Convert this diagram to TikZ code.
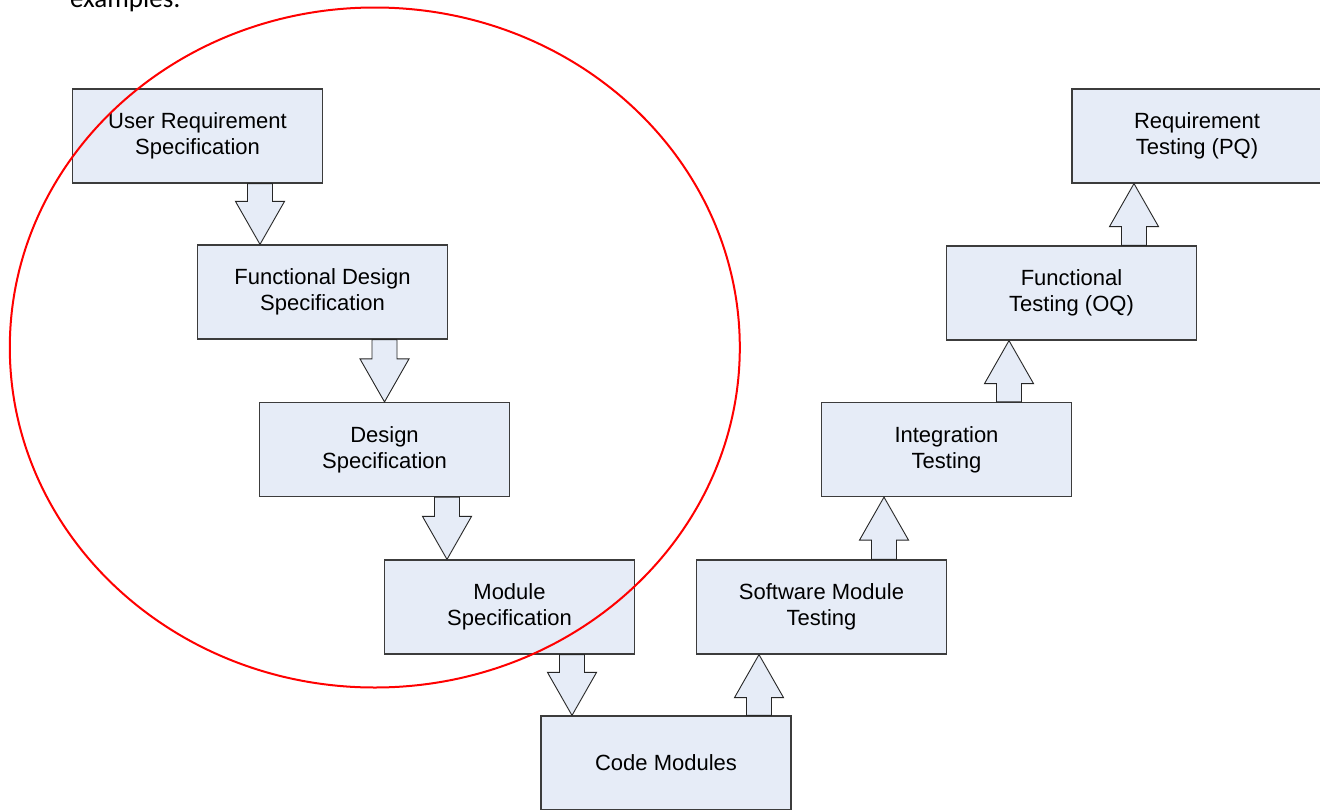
\documentclass[tikz,border=0pt]{standalone}
\usepackage{fontspec}
\setmainfont{Liberation Sans}
\newfontfamily\bodyfont{Carlito}
\usetikzlibrary{calc}

\definecolor{boxfill}{RGB}{230,236,247}
\definecolor{boxedge}{RGB}{60,60,60}
\definecolor{ringred}{RGB}{255,0,0}

\tikzset{
  stagebox/.style={draw=boxedge, fill=boxfill, line width=1.2pt,
    minimum width=250pt, minimum height=94pt, inner sep=0pt,
    align=center, font=\fontsize{22}{26}\selectfont},
  blockarrow/.style={draw=black!85, fill=boxfill, line width=0.9pt, line join=miter},
  ring/.style={draw=ringred, line width=2pt}
}

% block arrow pointing down from #1 to #2 at horizontal position #3
\newcommand\flowdown[3]{%
  \draw[blockarrow] (#3,0 |- #2.north) -- ++(-24.5,-43) -- ++(12,0)
    -- ($(#3,0 |- #1.south)+(-12.5,0)$) -- ++(25,0)
    -- ($(#3,0 |- #2.north)+(12.5,-43)$) -- ++(12,0) -- cycle;}
% block arrow pointing up from #1 to #2 at horizontal position #3
\newcommand\flowup[3]{%
  \draw[blockarrow] (#3,0 |- #2.south) -- ++(-24.5,43) -- ++(12,0)
    -- ($(#3,0 |- #1.north)+(-12.5,0)$) -- ++(25,0)
    -- ($(#3,0 |- #2.south)+(12.5,43)$) -- ++(12,0) -- cycle;}

\begin{document}
\begin{tikzpicture}[x=1pt, y=-1pt]
\path[use as bounding box, clip] (0,0) rectangle (1320,809);
\fill[white] (0,0) rectangle (1320,809);

% text line running into the top edge
\node[anchor=base west, inner sep=0pt, font=\bodyfont\fontsize{27}{32}\selectfont] (lead) at (70,7) {examples:};

% specification side
\node[stagebox] (urs) at (197.5,136)   {User Requirement\\Specification};
\node[stagebox] (fds) at (322.5,292)   {Functional Design\\Specification};
\node[stagebox] (ds)  at (384.5,449.5) {Design\\Specification};
\node[stagebox] (ms)  at (509.5,607)   {Module\\Specification};

% bottom
\node[stagebox] (cm)  at (666,763)     {Code Modules};

% testing side
\node[stagebox] (smt) at (821.5,607)   {Software Module\\Testing};
\node[stagebox] (it)  at (946.5,449.5) {Integration\\Testing};
\node[stagebox] (ft)  at (1071.5,293)  {Functional\\Testing (OQ)};
\node[stagebox] (rt)  at (1197,136)    {Requirement\\Testing (PQ)};

% arrows
\flowdown{urs}{fds}{260}
\flowdown{fds}{ds}{384.5}
\flowdown{ds}{ms}{447}
\flowdown{ms}{cm}{572}
\flowup{cm}{smt}{759}
\flowup{smt}{it}{884}
\flowup{it}{ft}{1009}
\flowup{ft}{rt}{1134}

% red ring around the specification stages
\draw[ring] (374.8,347.5) ellipse [x radius=365, y radius=340];
\end{tikzpicture}
\end{document}
